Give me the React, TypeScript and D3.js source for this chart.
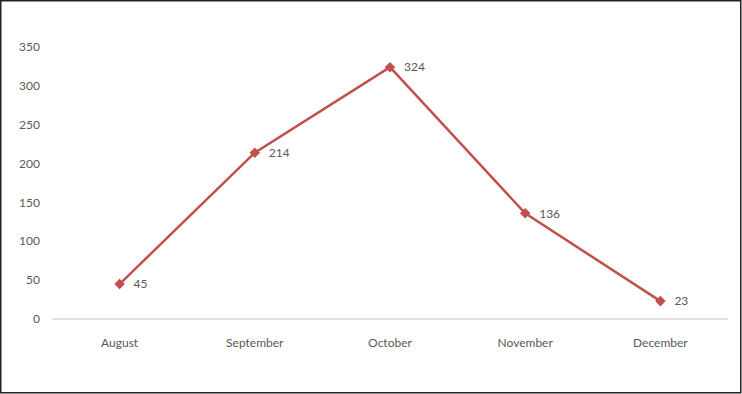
import * as d3 from 'd3';

// monthly counts
const months = ['August', 'September', 'October', 'November', 'December'];
const counts = [45, 214, 324, 136, 23];
const yTicks = [0, 50, 100, 150, 200, 250, 300, 350];

const width = 742;
const height = 394;
const lineColor = '#c0504d';
const textColor = '#595959';

function App() {
  const x = d3.scaleBand().domain(months).range([52, 728]);
  const y = d3.scaleLinear().domain([0, 350]).range([319, 47]);

  const line = d3
    .line<number>()
    .x((_, i) => x(months[i])! + x.bandwidth() / 2)
    .y((d) => y(d));

  // excel style diamond: a square turned 45 degrees
  const diamond = d3.symbol().type(d3.symbolSquare).size(56)();

  return (
    <svg
      width={width}
      height={height}
      style={{ position: 'absolute', left: 0, top: 0, fontFamily: 'Lato, sans-serif' }}
    >
      <rect x={0} y={0} width={width} height={height} fill="#fff" />
      <rect x={0.75} y={0.75} width={width - 2} height={height - 2} fill="none" stroke="#222" strokeWidth={1.5} />

      {/* y labels, no gridlines */}
      {yTicks.map((t) => (
        <text key={t} x={40} y={y(t)} dy="0.35em" textAnchor="end" fontSize={12} fill={textColor}>
          {t}
        </text>
      ))}

      {/* baseline */}
      <line x1={52} x2={728} y1={y(0)} y2={y(0)} stroke="#d9d9d9" strokeWidth={1.5} />

      {months.map((m) => (
        <text
          key={m}
          x={x(m)! + x.bandwidth() / 2}
          y={343}
          dy="0.35em"
          textAnchor="middle"
          fontSize={12}
          fill={textColor}
        >
          {m}
        </text>
      ))}

      <path d={line(counts)!} fill="none" stroke={lineColor} strokeWidth={2.5} />

      {counts.map((c, i) => {
        const cx = x(months[i])! + x.bandwidth() / 2;
        return (
          <g key={i}>
            <path d={diamond!} transform={`translate(${cx},${y(c)}) rotate(45)`} fill={lineColor} />
            <text x={cx + 14} y={y(c)} dy="0.35em" fontSize={12} fill={textColor}>
              {c}
            </text>
          </g>
        );
      })}
    </svg>
  );
}

export default App;
